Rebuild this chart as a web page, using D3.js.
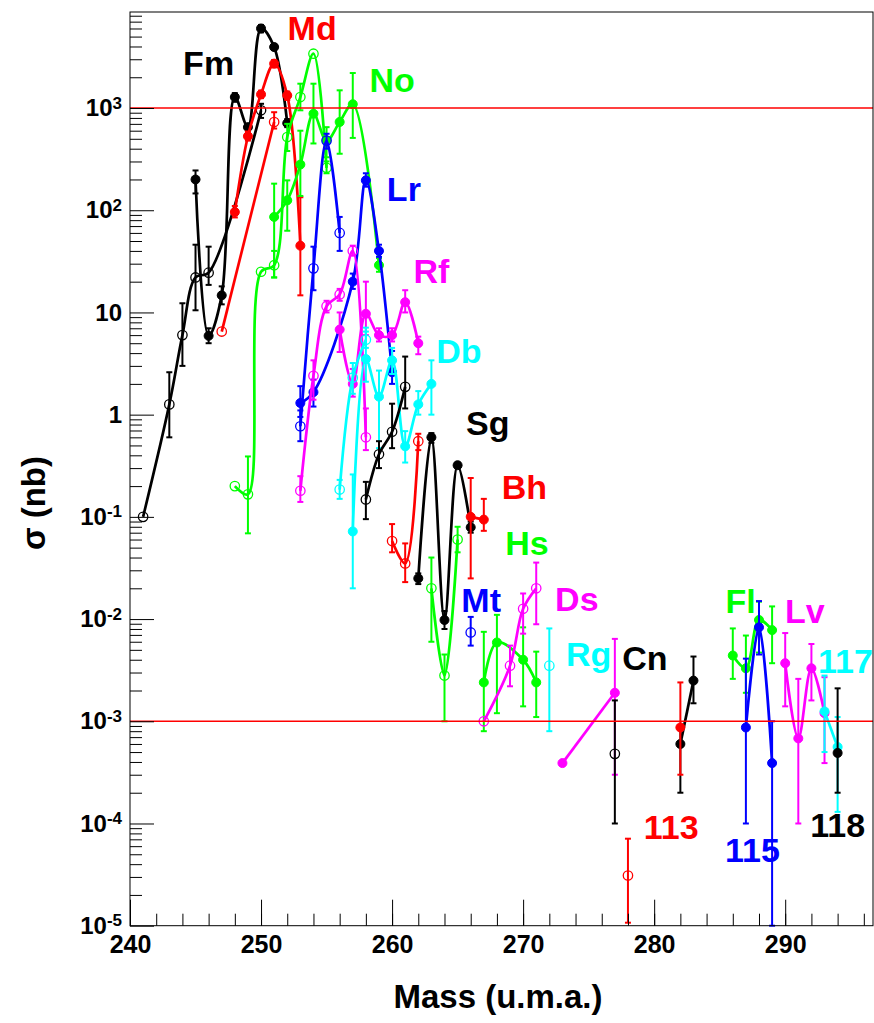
<!DOCTYPE html>
<html>
<head>
<meta charset="utf-8">
<script src="https://cdn.jsdelivr.net/npm/d3@7"></script>
<style>
  body { margin: 0; background: #fff; }
  text { font-family: "Liberation Sans", Arial, sans-serif; font-weight: bold; }
</style>
</head>
<body>
<svg id="chart" width="874" height="1023"></svg>
<script>
// each point: [mass, sigma (nb), error low end, error high end]
const fmOpen = [[241, 0.1], [243, 1.26, 0.6, 2.6], [244, 6, 3, 12.3], [245, 22, 10.5, 46], [246, 24.5, 18.6, 44], [250, 950, 800, 1100]]
const fmFilled = [[245, 200, 146, 245], [246, 5.9, 5, 7], [247, 14.7, 12, 18], [248, 1280, 1150, 1400], [249, 650, 600, 700], [250, 6000, 5500, 6500], [251, 3950, 3700, 4200], [252, 710, 650, 780]]
const mdFilled = [[248, 96, 85, 110], [249, 530, 480, 590], [250, 1360, 1250, 1480], [251, 2720, 2500, 2950], [252, 1330, 1200, 1450], [253, 45, 14.7, 134]]
const mdOpen = [[247, 6.5], [251, 730, 630, 910]]
const noFilled = [[251, 86, 22, 182], [252, 125, 63, 196], [253, 280, 138, 600], [254, 880, 450, 1730], [255, 480, 330, 650], [256, 730, 357, 1490], [257, 1090, 510, 2200], [259, 29, 25, 34]]
const noOpen = [[248, 0.2], [249, 0.166, 0.069, 0.39], [250, 25], [251, 29, 22, 40], [252, 520, 380, 700], [253, 1280, 950, 1730], [254, 3400], [255, 260, 230, 300]]
const lrOpen = [[253, 0.77, 0.55, 1.1], [254, 27, 16.5, 44], [255, 480, 400, 560], [256, 60, 40, 86]]
const lrFilled = [[253, 1.3, 0.95, 1.9], [254, 1.66, 1.2, 2.2], [257, 20, 17, 24], [258, 196, 170, 230], [259, 40, 35, 46], [260, 2.6, 2.0, 4.2]]
const rfFilled = [[256, 6.8, 4.1, 10], [257, 2.0, 1.5, 2.8], [258, 9.7, 6, 20], [259, 6, 5.2, 7], [260, 6, 5.2, 7], [261, 12.6, 10, 16.5], [262, 5, 3.9, 5.8]]
const rfOpen = [[253, 0.18, 0.14, 0.25], [254, 2.4, 1.4, 3.4], [255, 11.5, 10, 13], [256, 15, 13, 17], [257, 40, 36, 45], [258, 0.6, 0.45, 1.15]]
const dbFilled = [[257, 0.072, 0.02, 0.26], [258, 3.5, 2.1, 7.1], [259, 1.5, 0.47, 2.7], [260, 3.4, 2.5, 4.5], [261, 0.49, 0.34, 0.69], [262, 1.26, 1, 1.7], [263, 2, 1, 3.4]]
const dbOpen = [[256, 0.185, 0.15, 0.23], [257, 2.3, 1.6, 3.2], [258, 5.4, 4.5, 6.5]]
const sgOpen = [[258, 0.148, 0.095, 0.22], [259, 0.41, 0.3, 0.55], [260, 0.68, 0.47, 1.28], [261, 1.87, 1.15, 3.7]]
const sgFilled = [[262, 0.025, 0.022, 0.028], [263, 0.6, 0.53, 0.66], [264, 0.0098, 0.008, 0.012], [265, 0.32, 0.3, 0.34], [266, 0.079, 0.07, 0.09]]
const bhOpen = [[260, 0.058, 0.045, 0.085], [261, 0.035, 0.023, 0.055], [262, 0.55, 0.45, 0.65]]
const bhFilled = [[266, 0.1, 0.025, 0.24], [267, 0.094, 0.073, 0.15]]
const hsOpen = [[263, 0.02, 0.006, 0.04], [264, 0.0028, 0.001, 0.0045], [265, 0.06, 0.045, 0.08]]
const hsFilled = [[267, 0.0024, 0.0008, 0.0075], [268, 0.0059, 0.0012, 0.011], [270, 0.004, 0.0014, 0.0083], [271, 0.0024, 0.0011, 0.0048]]
const mtOpen = [[266, 0.0074, 0.0055, 0.0105]]
const dsOpen = [[267, 0.001], [269, 0.0035, 0.0022, 0.0055], [270, 0.0126, 0.0072, 0.0178], [271, 0.02, 0.0089, 0.0357]]
const dsFilled = [[273, 0.00039], [277, 0.0019, 0.0003, 0.0064]]
const rgOpen = [[272, 0.0035, 0.0008, 0.0081]]
const cnOpen = [[277, 0.00048, 0.0001, 0.0016]]
const cnFilled = [[282, 0.0006, 0.0002, 0.0009], [283, 0.0025, 0.0015, 0.0043]]
const e113Open = [[278, 3.1e-5, 1.07e-5, 7.1e-5]]
const e113Filled = [[282, 0.00087, 0.0003, 0.0024]]
const flFilled = [[286, 0.0044, 0.0026, 0.0081], [287, 0.0033, 0.0019, 0.0069], [288, 0.0098, 0.0047, 0.0148], [289, 0.0078, 0.0037, 0.0133]]
const e115Filled = [[287, 0.00087, 0.0001, 0.0041], [288, 0.0083, 0.0045, 0.015], [289, 0.00039, 0.00001, 0.001]]
const lvFilled = [[290, 0.0037, 0.0014, 0.0073], [291, 0.00068, 0.0001, 0.0026], [292, 0.0033, 0.0016, 0.0057], [293, 0.0012, 0.00039, 0.0027]]
const e117Filled = [[293, 0.00125, 0.0005, 0.0028], [294, 0.00056, 0.00013, 0.0011]]
const e118Filled = [[294, 0.00049, 0.0002, 0.0021]]

// element name labels: [text, mass (center), sigma (baseline)]
const names = [['Fm', 246.0, 2090], ['Md', 253.9, 4590], ['No', 260.0, 1425], ['Lr', 260.9, 122], ['Rf', 263.0, 19.3],
  ['Db', 265.1, 3.18], ['Sg', 267.3, 0.63], ['Bh', 270.1, 0.151], ['Hs', 270.3, 0.042], ['Mt', 266.8, 0.0116],
  ['Ds', 274.1, 0.012], ['Rg', 275.0, 0.0035], ['Cn', 279.3, 0.00315], ['Fl', 286.6, 0.0114], ['Lv', 291.5, 0.0091],
  ['117', 294.6, 0.003], ['113', 281.3, 7.1e-5], ['115', 287.5, 4.2e-5], ['118', 294.0, 7.3e-5]]
const nameColors = ['#000', '#f00', '#0f0', '#00f', '#f0f', '#0ff', '#000', '#f00', '#0f0', '#00f',
  '#f0f', '#0ff', '#000', '#0f0', '#f0f', '#0ff', '#f00', '#00f', '#000']

const refLines = [1e3, 1e-3]

const series = [
  { d: fmOpen, c: '#000', open: true }, { d: fmFilled, c: '#000' },
  { d: mdFilled, c: '#f00' }, { d: mdOpen, c: '#f00', open: true },
  { d: noOpen, c: '#0f0', open: true }, { d: noFilled, c: '#0f0' },
  { d: lrOpen, c: '#00f', open: true }, { d: lrFilled, c: '#00f' },
  { d: rfOpen, c: '#f0f', open: true }, { d: rfFilled, c: '#f0f' },
  { d: dbOpen, c: '#0ff', open: true }, { d: dbFilled, c: '#0ff' },
  { d: sgOpen, c: '#000', open: true }, { d: sgFilled, c: '#000' },
  { d: bhOpen, c: '#f00', open: true }, { d: bhFilled, c: '#f00' },
  { d: hsOpen, c: '#0f0', open: true }, { d: hsFilled, c: '#0f0' },
  { d: mtOpen, c: '#00f', open: true },
  { d: dsOpen, c: '#f0f', open: true }, { d: dsFilled, c: '#f0f' },
  { d: rgOpen, c: '#0ff', open: true },
  { d: cnOpen, c: '#000', open: true }, { d: cnFilled, c: '#000' },
  { d: e113Open, c: '#f00', open: true }, { d: e113Filled, c: '#f00' },
  { d: flFilled, c: '#0f0' }, { d: e115Filled, c: '#00f' },
  { d: lvFilled, c: '#f0f' }, { d: e117Filled, c: '#0ff' }, { d: e118Filled, c: '#000' }
]

const mLeft = 130, mRight = 873, mTop = 12, mBottom = 925.7

const svg = d3.select('#chart')
const x = d3.scaleLinear().domain([240, 296.7]).range([mLeft, mRight])
const y = d3.scaleLog().domain([1e-5, 8700]).range([mBottom, mTop])

const line = d3.line()
  .x(function (d) { return x(d[0]) })
  .y(function (d) { return y(d[1]) })
  .curve(d3.curveCatmullRom.alpha(0.5))

const plot = svg.append('g')

for (let s of series) {
  if (s.d.length > 1) {
    plot.append('path').datum(s.d)
      .attr('fill', 'none').attr('stroke', s.c).attr('stroke-width', 2.7)
      .attr('d', line)
  }
  let withErr = s.d.filter(function (d) { return d.length > 2 })
  let eb = plot.append('g').attr('stroke', s.c).attr('stroke-width', 2)
  eb.selectAll('line.v').data(withErr).join('line').attr('class', 'v')
    .attr('x1', d => x(d[0])).attr('x2', d => x(d[0]))
    .attr('y1', d => y(d[2])).attr('y2', d => y(d[3]))
  eb.selectAll('line.lo').data(withErr).join('line').attr('class', 'lo')
    .attr('x1', d => x(d[0]) - 3).attr('x2', d => x(d[0]) + 3)
    .attr('y1', d => y(d[2])).attr('y2', d => y(d[2]))
  eb.selectAll('line.hi').data(withErr).join('line').attr('class', 'hi')
    .attr('x1', d => x(d[0]) - 3).attr('x2', d => x(d[0]) + 3)
    .attr('y1', d => y(d[3])).attr('y2', d => y(d[3]))
  plot.append('g').selectAll('circle').data(s.d).join('circle')
    .attr('cx', d => x(d[0])).attr('cy', d => y(d[1]))
    .attr('r', s.open ? 4.7 : 4.5)
    .attr('fill', s.open ? 'none' : s.c)
    .attr('stroke', s.c).attr('stroke-width', s.open ? 1.3 : 1)
}

// red reference lines
svg.append('g').selectAll('line').data(refLines).join('line')
  .attr('x1', mLeft).attr('x2', mRight)
  .attr('y1', d => y(d)).attr('y2', d => y(d))
  .attr('stroke', '#f00').attr('stroke-width', 1.5)

// element labels
svg.append('g').selectAll('text').data(names).join('text')
  .attr('x', d => x(d[1])).attr('y', d => y(d[2]))
  .attr('text-anchor', 'middle').attr('font-size', 34)
  .attr('fill', (d, i) => nameColors[i])
  .text(d => d[0])

// frame
svg.append('rect').attr('x', mLeft).attr('y', mTop)
  .attr('width', mRight - mLeft).attr('height', mBottom - mTop)
  .attr('fill', 'none').attr('stroke', '#000').attr('stroke-width', 1)

// x axis: minor ticks every 2, major every 10
svg.append('g').attr('transform', `translate(0,${mBottom})`)
  .call(d3.axisBottom(x).tickValues(d3.range(240, 297, 2)).tickSize(-12).tickFormat(''))
  .call(g => g.select('.domain').remove())
svg.append('g').attr('transform', `translate(0,${mBottom})`)
  .call(d3.axisBottom(x).tickValues(d3.range(240, 291, 10)).tickSize(-26).tickPadding(10).tickFormat(d3.format('d')))
  .call(g => g.select('.domain').remove())
  .call(g => g.selectAll('text').attr('font-size', 25).attr('fill', '#000')
    .attr('font-family', '"Liberation Sans", Arial, sans-serif').attr('font-weight', 'bold'))

// y axis
let minors = []
for (let e = -5; e <= 3; e++) {
  for (let k = 2; k <= 9; k++) {
    let v = k * Math.pow(10, e)
    if (v < 8700) minors.push(v)
  }
}
let majors = d3.range(-5, 4).map(e => Math.pow(10, e))
svg.append('g').attr('transform', `translate(${mLeft},0)`)
  .call(d3.axisLeft(y).tickValues(minors).tickSize(-12).tickFormat(''))
  .call(g => g.select('.domain').remove())
svg.append('g').attr('transform', `translate(${mLeft},0)`)
  .call(d3.axisLeft(y).tickValues(majors).tickSize(-24).tickPadding(8))
  .call(g => g.select('.domain').remove())
  .call(g => g.selectAll('text').each(function (d) {
    let e = Math.round(Math.log10(d))
    let t = d3.select(this).text(null)
      .attr('font-size', 24).attr('fill', '#000')
      .attr('font-family', '"Liberation Sans", Arial, sans-serif').attr('font-weight', 'bold')
    if (e === 0) t.text('1')
    else if (e === 1) t.text('10')
    else {
      t.append('tspan').text('10')
      t.append('tspan').attr('dy', '-0.45em').attr('font-size', 17).text(e)
    }
  }))

// titles
svg.append('text').attr('x', 498).attr('y', 1008).attr('text-anchor', 'middle')
  .attr('font-size', 33).text('Mass (u.m.a.)')
svg.append('text').attr('transform', 'translate(45,503) rotate(-90)').attr('text-anchor', 'middle')
  .attr('font-size', 33).text('σ (nb)')
</script>
</body>
</html>
